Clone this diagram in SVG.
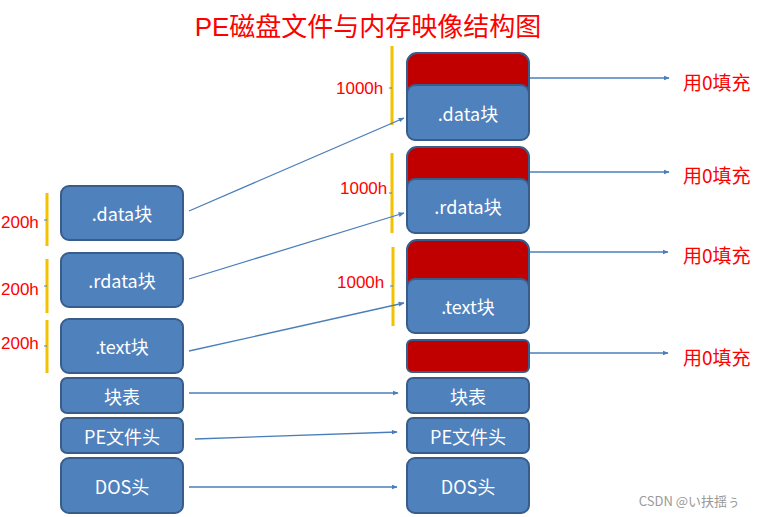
<svg xmlns="http://www.w3.org/2000/svg" width="757" height="517" viewBox="0 0 757 517">
  <style>
    .blk { fill: #4f81bd; stroke: #385d8a; stroke-width: 2; }
    .pad { fill: #c00000; stroke: #385d8a; stroke-width: 2; }
    .lbl { fill: #ffffff; font-family: "Noto Sans CJK SC", "Liberation Sans", sans-serif; font-size: 18px; text-anchor: middle; dominant-baseline: central; }
    .red { fill: #ff0000; font-family: "Liberation Sans", "Noto Sans CJK SC", sans-serif; font-size: 17px; dominant-baseline: central; }
    .fill0 { fill: #ff0000; font-family: "Noto Sans CJK SC", "Liberation Sans", sans-serif; font-size: 19px; dominant-baseline: central; }
    .brace { stroke: #f2c200; stroke-width: 3; fill: none; }
    .tick { stroke: #4a7ebb; stroke-width: 1; }
    .link { stroke: #4a7ebb; stroke-width: 1.3; fill: none; marker-end: url(#arr); }
  </style>
  <defs>
    <marker id="arr" viewBox="0 0 10 10" refX="9" refY="5" markerWidth="6" markerHeight="6" markerUnits="userSpaceOnUse" orient="auto">
      <path d="M0,1 L10,5 L0,9 z" fill="#4a7ebb"/>
    </marker>
  </defs>
  <rect width="757" height="517" fill="#ffffff"/>

  <text x="368" y="27" fill="#ff0000" font-family="Liberation Sans, Noto Sans CJK SC, sans-serif" font-size="26" text-anchor="middle" dominant-baseline="central">PE磁盘文件与内存映像结构图</text>

  <!-- disk file (left column) -->
  <g id="disk-data"><rect class="blk" x="61" y="186" width="122" height="54" rx="8"/><text class="lbl" x="122" y="213">.data块</text></g>
  <g id="disk-rdata"><rect class="blk" x="61" y="253" width="122" height="54" rx="8"/><text class="lbl" x="122" y="280">.rdata块</text></g>
  <g id="disk-text"><rect class="blk" x="61" y="319" width="122" height="54" rx="8"/><text class="lbl" x="122" y="346">.text块</text></g>
  <g id="disk-sectab"><rect class="blk" x="61" y="378" width="122" height="35" rx="6"/><text class="lbl" x="122" y="395.5">块表</text></g>
  <g id="disk-pehdr"><rect class="blk" x="61" y="418" width="122" height="35" rx="6"/><text class="lbl" x="122" y="435.5">PE文件头</text></g>
  <g id="disk-dos"><rect class="blk" x="61" y="458" width="122" height="55" rx="8"/><text class="lbl" x="122" y="485.5">DOS头</text></g>

  <!-- disk sizes -->
  <g id="disk-sizes">
    <path class="brace" d="M47,193 V246 M47,259 V313 M47,320 V373"/>
    <path class="tick" d="M44,220 H47 M44,286 H47 M44,346 H47"/>
    <text class="red" x="1" y="222">200h</text>
    <text class="red" x="1" y="289">200h</text>
    <text class="red" x="1" y="343">200h</text>
  </g>

  <!-- memory image (right column) -->
  <g id="mem-data"><rect class="pad" x="407" y="53" width="122" height="60" rx="10"/><rect class="blk" x="407" y="85" width="122" height="55" rx="8"/><text class="lbl" x="468" y="113">.data块</text></g>
  <g id="mem-rdata"><rect class="pad" x="407" y="147" width="122" height="60" rx="10"/><rect class="blk" x="407" y="179" width="122" height="54" rx="8"/><text class="lbl" x="468" y="206">.rdata块</text></g>
  <g id="mem-text"><rect class="pad" x="407" y="240" width="122" height="60" rx="10"/><rect class="blk" x="407" y="279" width="122" height="54" rx="8"/><text class="lbl" x="468" y="306">.text块</text></g>
  <g id="mem-pad"><rect class="pad" x="407" y="340" width="122" height="32" rx="5"/></g>
  <g id="mem-sectab"><rect class="blk" x="407" y="378" width="122" height="35" rx="6"/><text class="lbl" x="468" y="395.5">块表</text></g>
  <g id="mem-pehdr"><rect class="blk" x="407" y="418" width="122" height="35" rx="6"/><text class="lbl" x="468" y="435.5">PE文件头</text></g>
  <g id="mem-dos"><rect class="blk" x="407" y="458" width="122" height="55" rx="8"/><text class="lbl" x="468" y="485.5">DOS头</text></g>

  <!-- memory sizes -->
  <g id="mem-sizes">
    <path class="brace" d="M392,46 V125 M392,153 V233 M393,247 V326"/>
    <path class="tick" d="M389,88 H392 M389,193 H392 M390,286 H393"/>
    <text class="red" x="336" y="88">1000h</text>
    <text class="red" x="340" y="188">1000h</text>
    <text class="red" x="337" y="282">1000h</text>
  </g>

  <!-- zero-fill notes -->
  <g id="zero-notes">
    <text class="fill0" x="683" y="81">用0填充</text>
    <text class="fill0" x="683" y="174">用0填充</text>
    <text class="fill0" x="683" y="254">用0填充</text>
    <text class="fill0" x="683" y="356">用0填充</text>
  </g>

  <!-- connectors -->
  <g id="connectors">
    <path class="link" d="M189,211 L404,118"/>
    <path class="link" d="M189,279 L404,213"/>
    <path class="link" d="M189,351 L404,303"/>
    <path class="link" d="M189,393 L398,393"/>
    <path class="link" d="M195,439 L397,432"/>
    <path class="link" d="M189,487 L397,487"/>
    <path class="link" d="M530,78 L669,78"/>
    <path class="link" d="M530,172 L669,172"/>
    <path class="link" d="M530,252 L668,252"/>
    <path class="link" d="M530,353 L668,353"/>
  </g>

  <text x="740" y="500" fill="#999999" font-family="Noto Sans CJK SC, Liberation Sans, sans-serif" font-size="13" text-anchor="end" dominant-baseline="central">CSDN @い扶揺ぅ</text>
</svg>
